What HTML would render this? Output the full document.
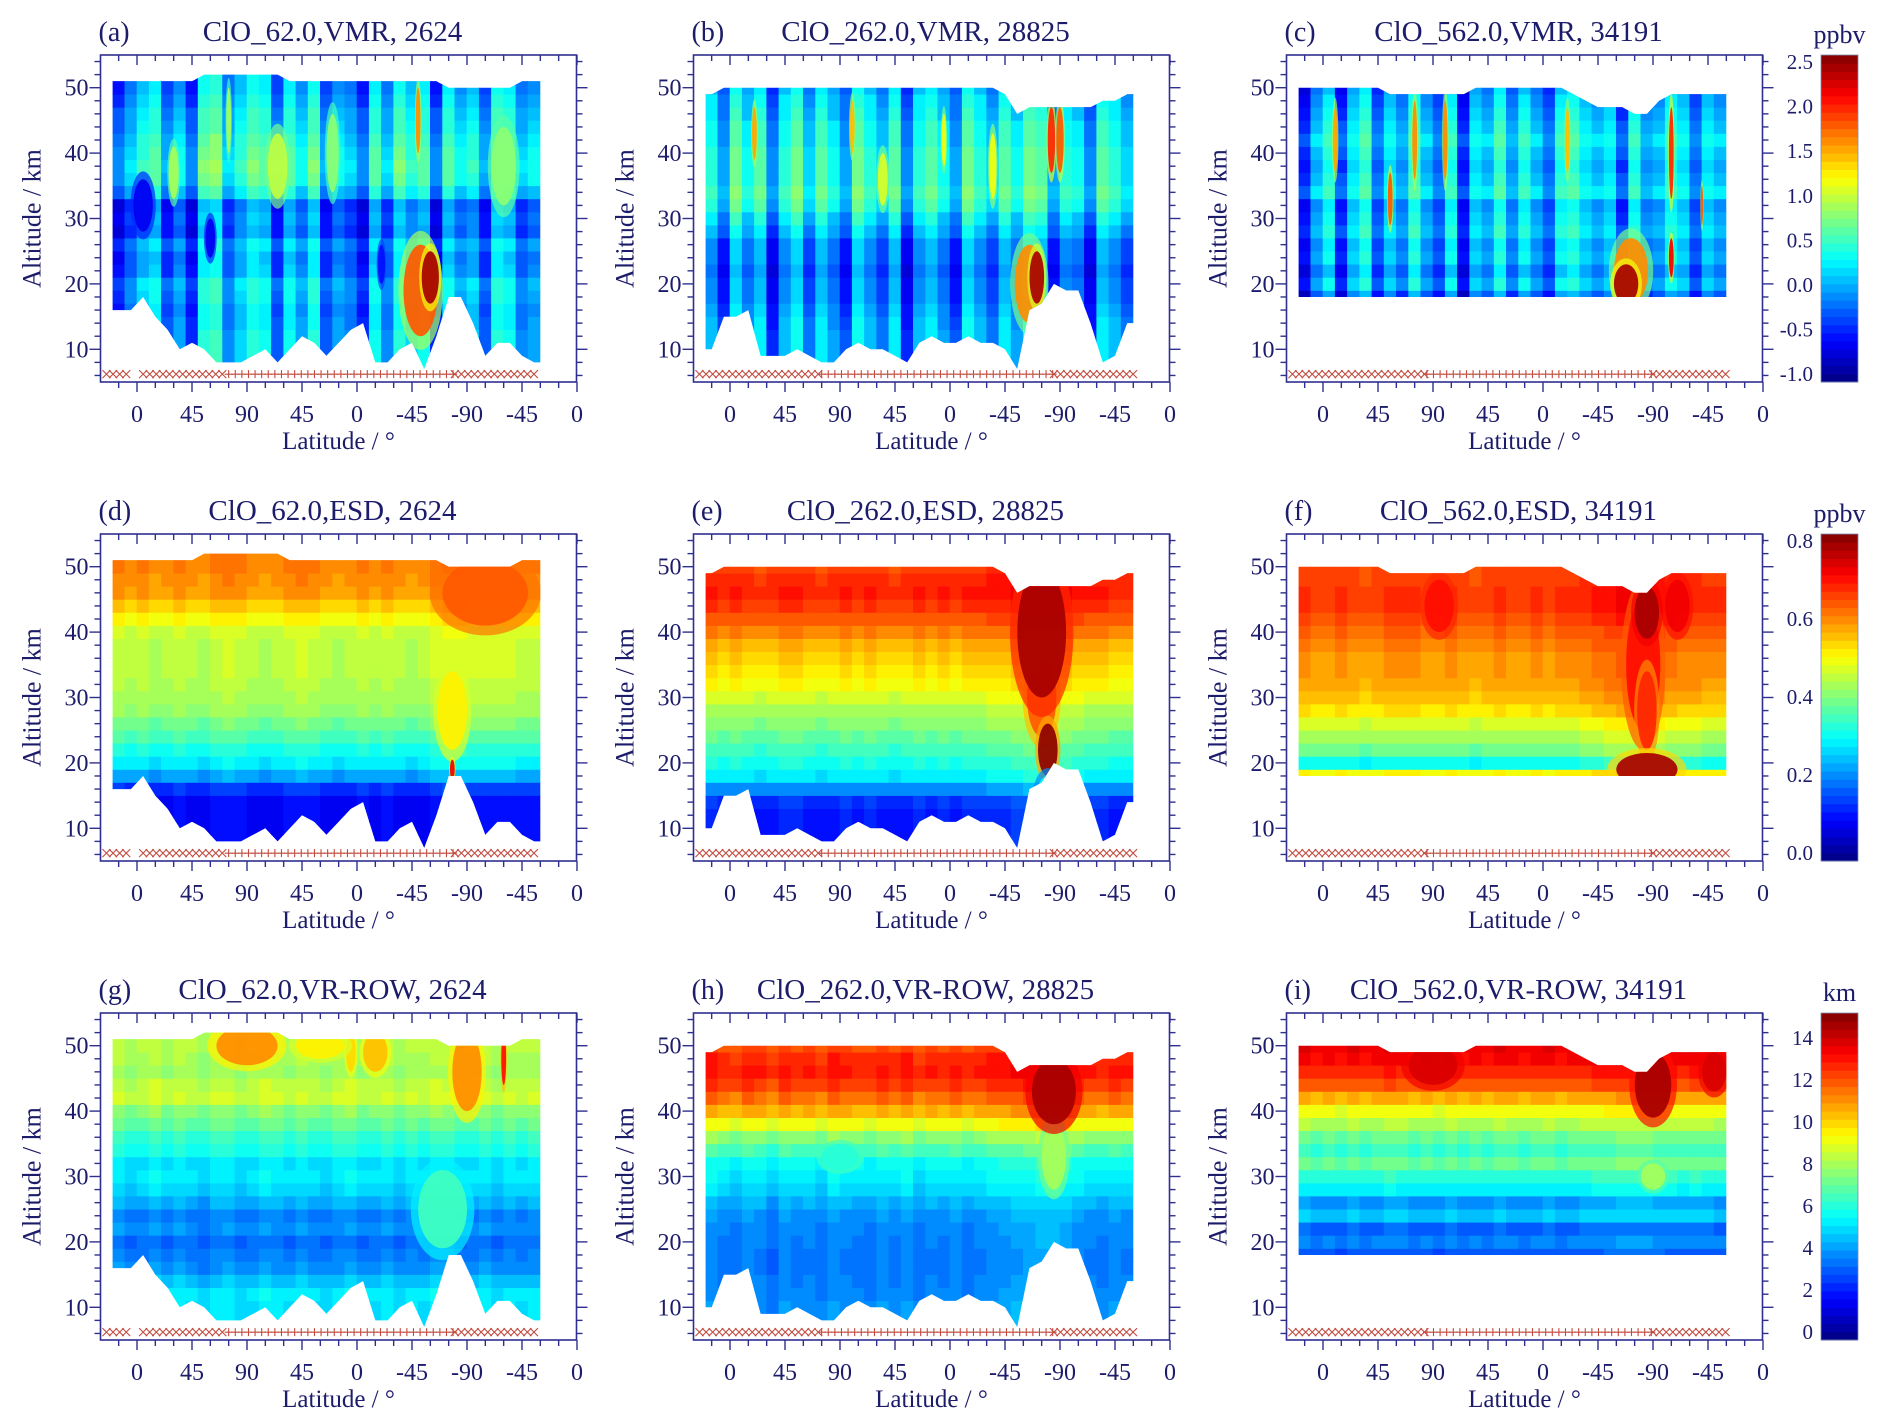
<!DOCTYPE html>
<html><head><meta charset="utf-8"><title>ClO VMR / ESD / VR-ROW</title>
<style>
html,body{margin:0;padding:0;background:#fff;}
svg{display:block;font-family:"Liberation Serif",serif;}
</style></head>
<body>
<svg id="fig" xmlns="http://www.w3.org/2000/svg" width="1892" height="1428" viewBox="0 0 1892 1428">
<defs id="defs"></defs>
<rect x="0" y="0" width="1892" height="1428" fill="#fff"/>
</svg>
<script>
// ---------------- data ----------------
const colU = [-15,-5,5,15,25,35,45,55,65,75,85,95,105,115,125,135,145,155,165,175,185,195,205,215,225,235,245,255,265,275,285,295,305,315,325];
const profAlt = [8,10,12,14,16,18,20,22,24,26,28,30,32,34,36,38,40,42,44,46,48,50,52];
const xTickLabels = ["0","45","90","45","0","-45","-90","-45","0"];
const yTickLabels = ["10","20","30","40","50"];

// masks (km) per column group
const topA = [51,51,51,51,51,51,51,52,52,52,52,52,52,52,51,51,51,51,51,51,51,51,51,51,51,51,51,50,50,50,50,50,50,51,51];
const botA = [16,16,18,15,13,10,11,10,8,8,8,9,10,8,10,12,11,9,11,13,14,8,8,10,11,7,12,18,18,14,9,11,11,9,8];
const topB = [49,50,50,50,50,50,50,50,50,50,50,50,50,50,50,50,50,50,50,50,50,50,50,50,49,46,47,47,47,47,47,47,48,48,49];
const botB = [10,15,15,16,9,9,9,10,9,8,8,10,11,10,10,9,8,11,12,11,11,12,11,11,10,7,16,17,20,19,19,14,8,9,14];
const topC = [50,50,50,50,50,50,50,49,49,49,49,49,49,49,50,50,50,50,50,50,50,50,49,48,47,47,47,46,46,48,49,49,49,49,49];
const botC = [18,18,18,18,18,18,18,18,18,18,18,18,18,18,18,18,18,18,18,18,18,18,18,18,18,18,18,18,18,18,18,18,18,18,18];

// vertical profiles (value at profAlt)
const profA = [0.0,0.0,0.0,-0.05,-0.1,0.0,0.05,-0.15,-0.2,-0.05,-0.3,-0.25,-0.35,0.1,0.3,0.35,0.3,0.25,0.15,0.1,0.0,-0.1,-0.1];
const profB = [-0.05,-0.05,-0.05,-0.1,-0.15,-0.25,-0.25,-0.35,-0.25,-0.25,-0.05,0.1,0.3,0.4,0.3,0.3,0.3,0.2,0.2,0.1,0.05,-0.05,-0.05];
const profC = [0,0,0,0,0,-0.3,0.0,-0.2,0.0,-0.1,0.1,0.0,-0.1,0.2,0.1,0.0,0.1,0.2,0.1,0.0,-0.1,-0.2,-0.2];
const profD = [0.08,0.08,0.08,0.08,0.12,0.22,0.28,0.31,0.35,0.38,0.41,0.43,0.44,0.45,0.45,0.45,0.46,0.5,0.54,0.58,0.59,0.6,0.6];
const profE = [0.1,0.1,0.1,0.12,0.2,0.28,0.31,0.34,0.37,0.4,0.43,0.47,0.5,0.52,0.54,0.56,0.6,0.64,0.67,0.69,0.68,0.66,0.66];
const profF = [0,0,0,0,0,0.5,0.3,0.38,0.43,0.47,0.52,0.55,0.57,0.58,0.58,0.6,0.62,0.65,0.67,0.67,0.66,0.66,0.66];
const profG = [5.0,5.0,5.2,4.5,3.8,3.5,3.2,3.8,3.5,4.2,4.8,5.2,5.0,5.8,6.2,7.0,7.5,8.5,8.3,7.8,8.0,8.2,8.2];
const profH = [3.8,3.8,3.6,3.5,3.4,3.4,3.5,3.6,3.8,4.2,4.8,5.2,5.5,6.5,7.5,9,10.5,11.5,12.3,12.8,12.6,12,12];
const profI = [0,0,0,0,0,2.8,3.5,3.0,4.5,3.8,5.2,6.0,7.0,6.2,7.0,8.0,9.0,10.5,11.8,12.6,13.2,13.5,13.5];

// column anomalies
const adjA = [-0.45,-0.15,0.15,0.3,-0.3,0.0,-0.45,0.4,0.5,-0.15,0.15,0.4,0.3,-0.3,0.3,0.0,0.4,-0.3,0.0,-0.15,-0.45,0.3,-0.15,0.4,0.15,0.3,-0.45,0.3,0.0,0.15,-0.3,0.4,0.3,-0.15,0.0];
const adjB = [0.15,-0.3,0.4,0.0,0.3,-0.45,0.15,0.4,-0.15,0.3,0.0,-0.3,0.4,0.15,-0.15,0.3,-0.45,0.15,0.3,0.0,-0.3,0.4,0.15,-0.15,0.3,0.0,0.4,0.3,-0.3,0.15,0.0,-0.45,0.3,0.15,-0.15];
const adjC = [-0.55,0.0,0.3,-0.45,0.15,0.4,-0.3,0.15,-0.15,0.4,0.0,-0.3,0.3,-0.55,0.15,0.0,0.4,-0.15,0.3,0.0,-0.3,0.3,0.4,0.15,0.0,0.15,-0.45,0.3,-0.15,0.0,0.3,0.15,-0.3,0.15,0.0];
const adjD = [0.01,0,0.01,-0.01,0,0.01,0,-0.01,0.01,0.02,0.01,0,-0.01,0,0.01,0.02,0.01,0,-0.01,0,0.01,0,0.01,0,-0.01,0,0.02,0.03,0.03,0.02,0.02,0.02,0.02,0.01,0.01];
const adjE = [0.01,0,0.01,0,-0.01,0,0.01,0.01,0,-0.01,0,0.01,0,0.01,0,-0.01,0,0.01,0,0.01,0,0.01,0.01,0.02,0.02,0.03,0.04,0.05,0.05,0.03,0.02,0.01,0.01,0,0];
const adjF = [0.01,0,0,0.01,0,-0.01,0,0.01,0.01,0.01,0,0,0.01,0,-0.01,0,0.01,0,0,0.01,0,0.01,0.01,0.02,0.03,0.04,0.05,0.05,0.05,0.04,0.03,0.02,0.02,0.01,0.01];
const adjG = [0.2,-0.2,0,0.3,-0.1,0.2,0,-0.3,0.1,0.2,-0.2,0,0.3,0.1,-0.1,0.2,0,-0.2,0.1,0.3,-0.1,0,0.2,-0.2,0.1,0,0.3,0.2,-0.1,0,0.2,-0.2,0.1,0,0.1];
const adjH = [0.3,0,-0.2,0.2,0.1,-0.3,0.2,0,0.1,-0.2,0.3,0.1,0,-0.1,0.2,0,0.3,-0.2,0.1,0,0.2,-0.1,0.1,0.3,0.4,0.5,0.6,0.8,0.8,0.6,0.3,0.1,0,0.2,0.1];
const adjI = [0.2,0,0.1,-0.1,0.2,0,0.1,0.3,0.2,0,0.1,-0.1,0.2,0,0.1,0,0.2,0.1,0,0.1,0.2,0,0.1,0.2,0.3,0.4,0.5,0.5,0.5,0.4,0.3,0.2,0.3,0.2,0.1];

// localized features: centre (deg, km), value, half-extent (deg, km)
const blobUA=[5,60,200,30,115,160,300,75,232,240,230], blobAltA=[32,27,23,37,38,40,38,45,19,21,45], blobValA=[-0.7,-0.7,-0.6,0.9,1.0,0.8,0.8,0.9,1.8,2.4,1.6], blobWA=[8,4,3,4,8,5,10,2,14,7,2], blobHA=[4,3,3,4,5,6,6,5,7,4,5];
const blobUB=[245,251,263,270,215,20,100,175,125], blobAltB=[20,21,42,42,38,43,44,42,36], blobValB=[1.6,2.4,2.0,1.8,1.2,1.5,1.4,1.2,1.1], blobWB=[12,6,3,3,3,2,2,2,4], blobHB=[6,4,5,5,5,4,4,4,4];
const blobUC=[252,248,285,55,100,75,200,310,285,10], blobAltC=[22,20,40,33,42,42,42,32,24,42], blobValC=[1.6,2.4,2.0,1.8,1.6,1.6,1.4,1.8,2.2,1.5], blobWC=[14,10,2,2,2,2,2,1,2,2], blobHC=[5,3,7,4,6,6,5,3,3,5];
const blobUD=[285,258,258], blobAltD=[46,28,19], blobValD=[0.64,0.52,0.72], blobWD=[35,12,2], blobHD=[5,6,1.5];
const blobUE=[255,255,260,260], blobAltE=[30,40,22,14], blobValE=[0.65,0.78,0.8,0.3], blobWE=[12,20,8,10], blobHE=[6,10,4,4];
const blobUF=[95,290,262,265,265,265], blobAltF=[44,44,35,28,43,19], blobValF=[0.7,0.72,0.7,0.68,0.78,0.78], blobWF=[12,10,14,8,10,25], blobHF=[4,4,10,6,4,2.5];
const blobUG=[250,90,195,175,150,270,300], blobAltG=[25,50,49,49,50,46,48], blobValG=[6.5,11,10.5,10,9.5,11,13], blobWG=[20,25,10,4,20,12,2], blobHG=[6,3,3,3,2,6,4];
const blobUH=[90,265,265], blobAltH=[33,33,43], blobValH=[6,8,14.5], blobWH=[15,10,18], blobHH=[2,5,5];
const blobUI=[270,90,320,270], blobAltI=[30,47,46,44], blobValI=[8,14,14,14.5], blobWI=[10,20,10,15], blobHI=[2,3,3,5];

// markers along x (deg ranges, glyph type)
const mkStartA=[-25,5,75,260], mkEndA=[-5,75,260,330], mkTypeA=["x","x","+","x"];
const mkStartB=[-25,75,265], mkEndB=[75,265,332], mkTypeB=["x","+","x"];
const mkStartC=[-25,85,270], mkEndC=[85,270,332], mkTypeC=["x","+","x"];

// colour bars
const cbTicksVMR=["-1.0","-0.5","0.0","0.5","1.0","1.5","2.0","2.5"], cbValsVMR=[-1.0,-0.5,0.0,0.5,1.0,1.5,2.0,2.5];
const cbTicksESD=["0.0","0.2","0.4","0.6","0.8"], cbValsESD=[0.0,0.2,0.4,0.6,0.8];
const cbTicksVR=["0","2","4","6","8","10","12","14"], cbValsVR=[0,2,4,6,8,10,12,14];
const rangeVMR=[-1.09,2.58], rangeESD=[-0.02,0.818], rangeVR=[-0.38,15.2];
const titles=["ClO_62.0,VMR, 2624","ClO_262.0,VMR, 28825","ClO_562.0,VMR, 34191","ClO_62.0,ESD, 2624","ClO_262.0,ESD, 28825","ClO_562.0,ESD, 34191","ClO_62.0,VR-ROW, 2624","ClO_262.0,VR-ROW, 28825","ClO_562.0,VR-ROW, 34191"];
const letters=["(a)","(b)","(c)","(d)","(e)","(f)","(g)","(h)","(i)"];

// ---------------- rendering ----------------
const NS="http://www.w3.org/2000/svg";
const svg=document.getElementById('fig');
const defs=document.getElementById('defs');
const BW=476, BH=327, TXT="#1c1c6a", AX="#2f2f8f";
function el(tag,attrs,parent){const e=document.createElementNS(NS,tag);for(const k in attrs)e.setAttribute(k,attrs[k]);(parent||svg).appendChild(e);return e;}
function jet(t){t=Math.max(0,Math.min(1,t));const c=v=>Math.round(255*Math.max(0,Math.min(1,v)));return `rgb(${c(1.5-Math.abs(4*t-3))},${c(1.5-Math.abs(4*t-2))},${c(1.5-Math.abs(4*t-1))})`;}
function colorFor(v,rng){const n=40;let t=(v-rng[0])/(rng[1]-rng[0]);t=Math.floor(Math.max(0,Math.min(0.9999,t))*n)/n+0.5/n;return jet(t);}

const masks=[[topA,botA],[topB,botB],[topC,botC]];
const marks=[[mkStartA,mkEndA,mkTypeA],[mkStartB,mkEndB,mkTypeB],[mkStartC,mkEndC,mkTypeC]];
const profs=[profA,profB,profC,profD,profE,profF,profG,profH,profI];
const adjs=[adjA,adjB,adjC,adjD,adjE,adjF,adjG,adjH,adjI];
const blobs=[[blobUA,blobAltA,blobValA,blobWA,blobHA],[blobUB,blobAltB,blobValB,blobWB,blobHB],[blobUC,blobAltC,blobValC,blobWC,blobHC],
 [blobUD,blobAltD,blobValD,blobWD,blobHD],[blobUE,blobAltE,blobValE,blobWE,blobHE],[blobUF,blobAltF,blobValF,blobWF,blobHF],
 [blobUG,blobAltG,blobValG,blobWG,blobHG],[blobUH,blobAltH,blobValH,blobWH,blobHH],[blobUI,blobAltI,blobValI,blobWI,blobHI]];
const ranges=[rangeVMR,rangeESD,rangeVR];

for(let p=0;p<9;p++){
  const row=Math.floor(p/3), col=p%3;
  const L=100.5+col*593, T=55+row*479;
  const xU=u=>L+36.5+u*1.2222;
  const yA=a=>T+BH-(a-5)*6.54;
  const rng=ranges[row];
  const [tops,bots]=masks[col];
  const g=el('g',{});
  
  
  const cp=el('clipPath',{id:'clip'+p},defs);
  let pts=[];
  pts.push([xU(colU[0]-5),yA(tops[0])]);
  colU.forEach((u,i)=>pts.push([xU(u),yA(tops[i])]));
  pts.push([xU(colU[colU.length-1]+5),yA(tops[tops.length-1])]);
  pts.push([xU(colU[colU.length-1]+5),yA(bots[bots.length-1])]);
  for(let i=colU.length-1;i>=0;i--)pts.push([xU(colU[i]),yA(bots[i])]);
  pts.push([xU(colU[0]-5),yA(bots[0])]);
  el('polygon',{points:pts.map(q=>q[0].toFixed(1)+','+q[1].toFixed(1)).join(' ')},cp);
  const field=el('g',{'clip-path':`url(#clip${p})`},g);
  
  
  const prof=profs[p], adj=adjs[p];
  colU.forEach((u,i)=>{
    prof.forEach((v,k)=>{
      const a=profAlt[k];
      const r=el('rect',{x:(xU(u-5)-0.3).toFixed(1),y:(yA(a+1)-0.3).toFixed(1),width:(10*1.2222+0.6).toFixed(1),height:(2*6.54+0.6).toFixed(1),fill:colorFor(v+adj[i],rng)},field);
      
      
    });
  });
  const [bu,ba,bv,bw,bh]=blobs[p];
  bu.forEach((u,j)=>{
    const e1=el('ellipse',{cx:xU(u).toFixed(1),cy:yA(ba[j]).toFixed(1),rx:(bw[j]*1.2222*1.3).toFixed(1),ry:(bh[j]*6.54*1.3).toFixed(1),fill:colorFor((bv[j]+prof[Math.min(22,Math.max(0,Math.round((ba[j]-8)/2)))])/2,rng),opacity:0.7},field);
    
    
    const e=el('ellipse',{cx:xU(u).toFixed(1),cy:yA(ba[j]).toFixed(1),rx:(bw[j]*1.2222).toFixed(1),ry:(bh[j]*6.54).toFixed(1),fill:colorFor(bv[j],rng),opacity:0.92},field);
    
    
  });
  const [ms,me,mt]=marks[col];
  const mg=el('g',{stroke:'#c24b3f','stroke-width':1.1,fill:'none'},g);
  
  
  const ym=yA(6.2);
  ms.forEach((s,j)=>{
    for(let u=s;u<=me[j];u+=5.4){
      const x=xU(u), h=4;
      const d=mt[j]==='x'?`M${x-h},${ym-h}L${x+h},${ym+h}M${x-h},${ym+h}L${x+h},${ym-h}`:`M${x-h},${ym}L${x+h},${ym}M${x},${ym-h}L${x},${ym+h}`;
      el('path',{d},mg);
    }
  });
  const box=el('rect',{x:L,y:T,width:BW,height:BH,fill:'none',stroke:AX,'stroke-width':1.6},g);
  
  
  const tk=el('g',{stroke:AX,'stroke-width':1.4},g);
  
  
  for(let a=6;a<=54;a+=2){
    const y=yA(a), len=(a%10===0)?11:6;
    el('line',{x1:L-len,y1:y,x2:L,y2:y},tk);
    el('line',{x1:L+BW,y1:y,x2:L+BW+len,y2:y},tk);
  }
  for(let u=-15;u<=360;u+=15){
    const x=xU(u), len=(u%45===0)?10:6;
    el('line',{x1:x,y1:T+BH,x2:x,y2:T+BH+len},tk);
    el('line',{x1:x,y1:T,x2:x,y2:T+len},tk);
  }
  yTickLabels.forEach((s,j)=>{
    const t=el('text',{x:L-12,y:yA(+s)+8,'text-anchor':'end','font-size':24,fill:TXT},g);t.textContent=s;
    
    
  });
  xTickLabels.forEach((s,j)=>{
    const t=el('text',{x:xU(j*45),y:T+BH+40,'text-anchor':'middle','font-size':24,fill:TXT},g);t.textContent=s;
    
    
  });
  const xt=el('text',{x:L+BW/2,y:T+BH+67,'text-anchor':'middle','font-size':25,fill:TXT},g);xt.textContent='Latitude / °';
  
  
  const yt=el('text',{x:0,y:0,'text-anchor':'middle','font-size':26,fill:TXT,transform:`translate(${L-60},${T+BH/2}) rotate(-90)`},g);yt.textContent='Altitude / km';
  
  
  const lt=el('text',{x:L-2,y:T-14,'font-size':28,fill:TXT},g);lt.textContent=letters[p];
  
  
  const tt=el('text',{x:L+BW/2-6,y:T-14,'text-anchor':'middle','font-size':29,fill:TXT},g);tt.textContent=titles[p];
  
  
}

const cbTicks=[cbTicksVMR,cbTicksESD,cbTicksVR], cbVals=[cbValsVMR,cbValsESD,cbValsVR], cbUnits=["ppbv","ppbv","km"];
for(let r=0;r<3;r++){
  const T=55+r*479, X=1821, W=37, rng=ranges[r];
  const g=el('g',{});
  
  
  const n=40;
  for(let i=0;i<n;i++){
    const y=T+BH-(i+1)*BH/n;
    const b=el('rect',{x:X,y:y.toFixed(2),width:W,height:(BH/n+0.5).toFixed(2),fill:jet((i+0.5)/n)},g);
    
    
  }
  el('rect',{x:X,y:T,width:W,height:BH,fill:'none',stroke:'#7a8fb0','stroke-width':0.8},g);
  const yv=v=>T+BH*(rng[1]-v)/(rng[1]-rng[0]);
  cbTicks[r].forEach((s,j)=>{
    const t=el('text',{x:X-8,y:yv(cbVals[r][j])+7,'text-anchor':'end','font-size':21,fill:TXT},g);t.textContent=s;
    
    
  });
  const u=el('text',{x:X+W/2,y:T-12,'text-anchor':'middle','font-size':26,fill:TXT},g);u.textContent=cbUnits[r];
  
  
}
</script>
</body></html>
